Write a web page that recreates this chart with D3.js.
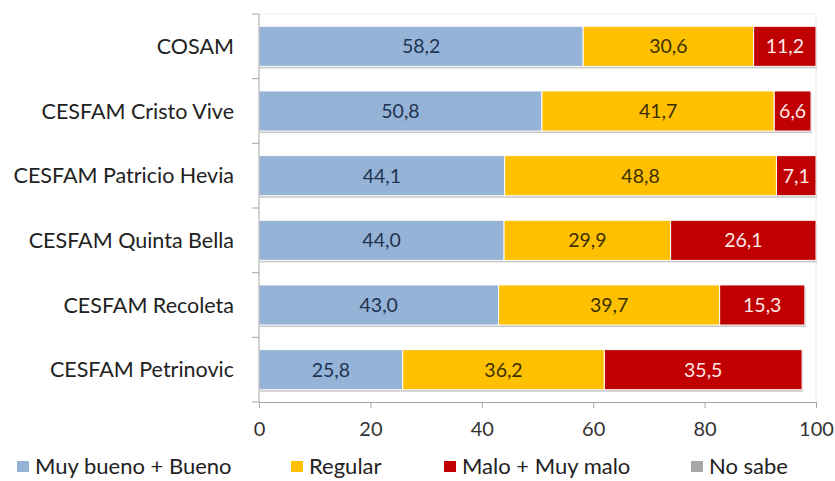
<html>
<head>
  <script src='https://d3js.org/d3.v7.min.js'></script>
</head>
<style type="text/css">
body { margin: 0; background: #fff; }
text { font-family: Lato, "Open Sans", sans-serif; }
</style>
<body>
<script>

var categories = ["COSAM", "CESFAM Cristo Vive", "CESFAM Patricio Hevia",
                  "CESFAM Quinta Bella", "CESFAM Recoleta", "CESFAM Petrinovic"];
var muyBueno = [58.2, 50.8, 44.1, 44.0, 43.0, 25.8];
var regular  = [30.6, 41.7, 48.8, 29.9, 39.7, 36.2];
var malo     = [11.2, 6.6, 7.1, 26.1, 15.3, 35.5];
var noSabe   = [0, 0, 0, 0, 0, 0];
var seriesNames = ["Muy bueno + Bueno", "Regular", "Malo + Muy malo", "No sabe"];
var xTicks = [0, 20, 40, 60, 80, 100];

var colors = ["#95B3D7", "#FFC000", "#C00000", "#A6A6A6"],
    textColors = ["#1F3350", "#3D3000", "#FFE8E8", "#333"],
    width = 835,
    height = 481,
    margin = {top: 14, right: 19, bottom: 79, left: 259};

var svg = d3.select('body')
          .append('svg')
          .attr('width', width)
          .attr('height', height);

var x = d3.scaleLinear().domain([0, 100]).range([margin.left, width - margin.right]);
var y = d3.scaleBand().domain(categories)
          .range([margin.top, height - margin.bottom])
          .paddingInner(0.38).paddingOuter(0.19);

var rows = categories.map(function(c, i) {
  return {cat: c, vals: [muyBueno[i], regular[i], malo[i], noSabe[i]]};
});
var stack = d3.stack().keys([0, 1, 2, 3])(rows.map(function(r) { return r.vals; }));

// plot border
svg.append('line')
   .attr('x1', x(100)).attr('x2', x(100))
   .attr('y1', margin.top).attr('y2', height - margin.bottom)
   .attr('stroke', '#e4e4e4');
svg.append('line')
   .attr('x1', x(0)).attr('x2', x(100))
   .attr('y1', margin.top).attr('y2', margin.top)
   .attr('stroke', '#efefef');

// bar shadows
svg.selectAll('.shadow')
   .data(rows)
   .enter().append('rect')
   .attr('class', 'shadow')
   .attr('x', x(0) + 1)
   .attr('y', function(d) { return y(d.cat) + 2; })
   .attr('width', function(d) { return x(d3.sum(d.vals)) - x(0); })
   .attr('height', y.bandwidth())
   .attr('fill', '#c8c8c8');

var layer = svg.selectAll('.layer')
   .data(stack)
   .enter().append('g')
   .attr('class', 'layer');

layer.selectAll('rect')
   .data(function(s) { return s.map(function(d, i) { return {k: s.key, d: d, i: i}; }); })
   .enter().append('rect')
   .attr('x', function(e) { return x(e.d[0]); })
   .attr('y', function(e) { return y(categories[e.i]); })
   .attr('width', function(e) { return x(e.d[1]) - x(e.d[0]); })
   .attr('height', y.bandwidth())
   .attr('fill', function(e) { return colors[e.k]; })
   .attr('stroke', '#fff')
   .attr('stroke-width', 1);

layer.selectAll('text')
   .data(function(s) { return s.map(function(d, i) { return {k: s.key, d: d, i: i}; })
                              .filter(function(e) { return e.d[1] - e.d[0] > 0; }); })
   .enter().append('text')
   .attr('x', function(e) { return (x(e.d[0]) + x(e.d[1])) / 2; })
   .attr('y', function(e) { return y(categories[e.i]) + y.bandwidth() / 2; })
   .attr('dy', '0.36em')
   .attr('text-anchor', 'middle')
   .attr('font-size', 19.5)
   .attr('fill', function(e) { return textColors[e.k]; })
   .text(function(e) { return d3.format('.1f')(e.d[1] - e.d[0]).replace('.', ','); });

// left axis
var yAxis = svg.append('g')
   .attr('transform', 'translate(' + x(0) + ',0)');
yAxis.append('line')
   .attr('x1', 0).attr('x2', 0)
   .attr('y1', margin.top).attr('y2', height - margin.bottom)
   .attr('stroke', '#a6a6a6');
yAxis.selectAll('.yt')
   .data(d3.range(categories.length + 1))
   .enter().append('line')
   .attr('x1', -7).attr('x2', 0)
   .attr('y1', function(i) { return margin.top + i * y.step(); })
   .attr('y2', function(i) { return margin.top + i * y.step(); })
   .attr('stroke', '#a6a6a6');
yAxis.selectAll('text')
   .data(categories)
   .enter().append('text')
   .attr('x', -25)
   .attr('y', function(d) { return y(d) + y.bandwidth() / 2; })
   .attr('dy', '0.36em')
   .attr('text-anchor', 'end')
   .attr('font-size', 21.5)
   .attr('fill', '#222')
   .text(function(d) { return d; });

// bottom axis
var xAxis = svg.append('g')
   .attr('transform', 'translate(0,' + (height - margin.bottom) + ')')
   .call(d3.axisBottom(x).tickValues(xTicks).tickSize(6).tickPadding(14));
xAxis.select('.domain').attr('stroke', '#a6a6a6');
xAxis.selectAll('.tick line').attr('stroke', '#a6a6a6');
xAxis.selectAll('.tick text')
   .attr('font-family', 'Lato, sans-serif')
   .attr('font-size', 20)
   .attr('fill', '#333');

// legend
var legendX = [17, 291, 444, 691];
var legend = svg.selectAll('.legend')
   .data(seriesNames)
   .enter().append('g')
   .attr('class', 'legend')
   .attr('transform', function(d, i) { return 'translate(' + legendX[i] + ',466)'; });
legend.append('rect')
   .attr('x', 0).attr('y', -5)
   .attr('width', 12).attr('height', 11)
   .attr('fill', function(d, i) { return colors[i]; });
legend.append('text')
   .attr('x', 18)
   .attr('y', 0)
   .attr('dy', '0.36em')
   .attr('font-size', 22)
   .attr('fill', '#222')
   .text(function(d) { return d; });

</script>
</body>
</html>
